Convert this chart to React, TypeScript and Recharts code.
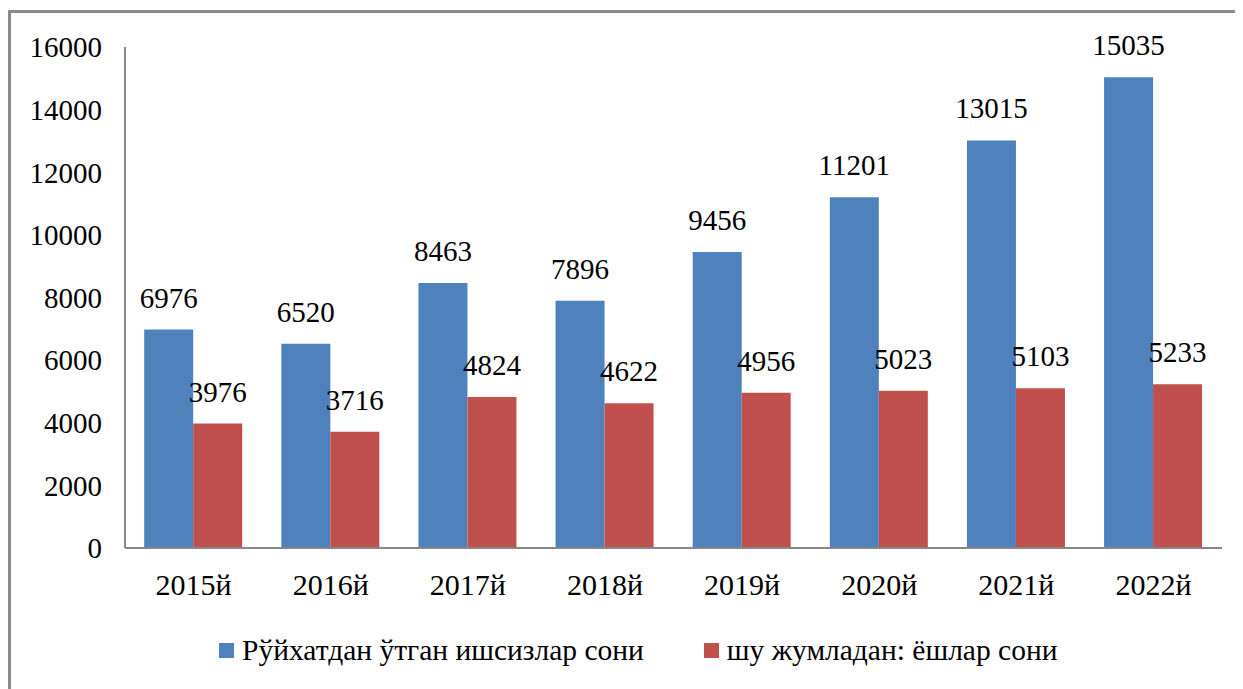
import React from "react";
import { BarChart, Bar, XAxis, YAxis, LabelList, Legend } from "recharts";

const categories = ["2015й", "2016й", "2017й", "2018й", "2019й", "2020й", "2021й", "2022й"];
const registered = [6976, 6520, 8463, 7896, 9456, 11201, 13015, 15035];
const youth = [3976, 3716, 4824, 4622, 4956, 5023, 5103, 5233];
const yTicks = [0, 2000, 4000, 6000, 8000, 10000, 12000, 14000, 16000];
const seriesNames = ["Рўйхатдан ўтган ишсизлар сони", "шу жумладан: ёшлар сони"];
const colors = ["#4F81BD", "#C0504D"];

const data = categories.map((c, i) => ({ name: c, a: registered[i], b: youth[i] }));

const FONT = "Liberation Serif, Tinos, Times New Roman, DejaVu Serif, serif";

const LegendContent = () => (
  <div style={{ display: "flex", alignItems: "center", fontFamily: FONT, fontSize: 29.5, color: "#000", height: 34 }}>
    {seriesNames.map((n, i) => (
      <div key={n} style={{ display: "flex", alignItems: "center", marginRight: i === 0 ? 60 : 0 }}>
        <div style={{ width: 15, height: 15, background: colors[i], marginRight: 8 }} />
        <span style={{ whiteSpace: "nowrap" }}>{n}</span>
      </div>
    ))}
  </div>
);

export default function App() {
  return (
    <div style={{ position: "relative", width: 1235, height: 681, overflow: "hidden", background: "#fff" }}>
      <div
        style={{
          position: "absolute",
          left: 0,
          top: 2,
          width: 1400,
          height: 900,
          border: "3px solid #8a8a8a",
          boxSizing: "border-box",
        }}
      />
      <div style={{ position: "absolute", left: 0, top: 0 }}>
        <BarChart
          width={1235}
          height={681}
          data={data}
          margin={{ top: 39, right: 21, bottom: 111, left: 0 }}
          barCategoryGap="14%"
          barGap={0}
        >
          <XAxis
            dataKey="name"
            tickLine={false}
            tickSize={0}
            tickMargin={26}
            axisLine={{ stroke: "#878787", strokeWidth: 2 }}
            tick={{ fill: "#000", fontSize: 30, fontFamily: FONT }}
            interval={0}
          />
          <YAxis
            width={117}
            domain={[0, 16000]}
            ticks={yTicks}
            tickLine={false}
            tickSize={0}
            tickMargin={23}
            axisLine={{ stroke: "#878787", strokeWidth: 2 }}
            tick={{ fill: "#000", fontSize: 29, fontFamily: FONT }}
            interval={0}
          />
          <Legend
            layout="horizontal"
            verticalAlign="middle"
            align="center"
            content={<LegendContent />}
            wrapperStyle={{ top: 625, left: 211, width: 1000, height: 34 }}
          />
          <Bar dataKey="a" name={seriesNames[0]} fill={colors[0]} isAnimationActive={false}>
            <LabelList dataKey="a" position="top" offset={22} style={{ fill: "#000", fontSize: 29, fontFamily: FONT }} />
          </Bar>
          <Bar dataKey="b" name={seriesNames[1]} fill={colors[1]} isAnimationActive={false}>
            <LabelList dataKey="b" position="top" offset={22} style={{ fill: "#000", fontSize: 29, fontFamily: FONT }} />
          </Bar>
        </BarChart>
      </div>
    </div>
  );
}
